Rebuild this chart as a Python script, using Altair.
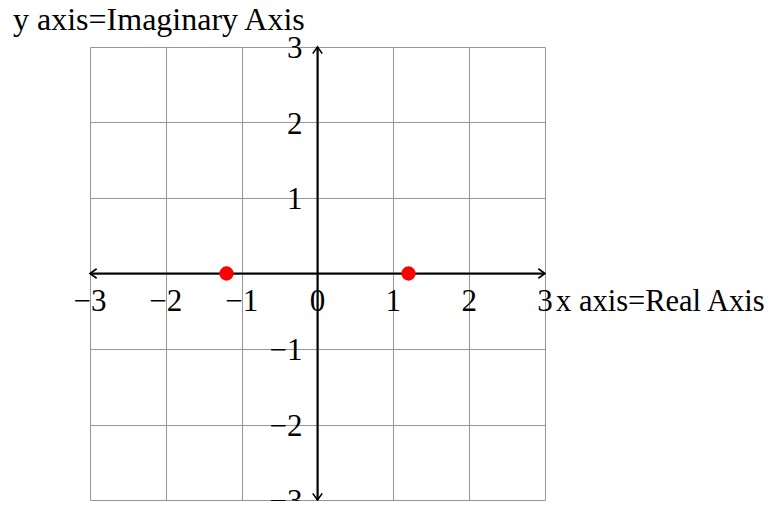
import altair as alt
import pandas as pd

# ---- data ----
tick_values = [-3, -2, -1, 0, 1, 2, 3]
x_tick_values = [-3, -2, -1, 0, 1, 2, 3]
x_tick_labels = ["−3", "−2", "−1", "0", "1", "2", "3"]
y_tick_values = [-3, -2, -1, 1, 2, 3]
y_tick_labels = ["−3", "−2", "−1", "1", "2", "3"]
point_x = [-1.2, 1.2]
point_y = [0, 0]
x_title = "x axis=Real Axis"
y_title = "y axis=Imaginary Axis"
axis_min = -3
axis_max = 3

FONT = "Liberation Serif"
FS = 31

xs = alt.Scale(domain=[axis_min, axis_max], nice=False, zero=False)
ys = alt.Scale(domain=[axis_min, axis_max], nice=False, zero=False)
ax = alt.Axis(values=tick_values, grid=True, labels=False, ticks=False,
              domain=False, title=None, gridColor="#969696", gridWidth=1)

pts = pd.DataFrame({"x": point_x, "y": point_y})
points = alt.Chart(pts).mark_circle(size=205, color="#ff0000", opacity=1).encode(
    x=alt.X("x:Q", scale=xs, axis=ax),
    y=alt.Y("y:Q", scale=ys, axis=ax),
)

rules_df = pd.DataFrame({
    "x": [axis_min, 0], "x2": [axis_max, 0],
    "y": [0, axis_min], "y2": [0, axis_max],
})
rules = alt.Chart(rules_df).mark_rule(color="black", strokeWidth=2).encode(
    x=alt.X("x:Q", scale=xs, axis=ax), x2="x2:Q",
    y=alt.Y("y:Q", scale=ys, axis=ax), y2="y2:Q",
)

arrows_df = pd.DataFrame({
    "x": [axis_max, axis_min, 0, 0],
    "y": [0, 0, axis_max, axis_min],
    "angle": [0, 180, 270, 90],
})
arrows = alt.Chart(arrows_df).mark_point(
    shape="M -1.4 -1 L 0 0 L -1.4 1", filled=False, color="black",
    strokeWidth=1.6, size=90, opacity=1,
).encode(
    x=alt.X("x:Q", scale=xs, axis=ax),
    y=alt.Y("y:Q", scale=ys, axis=ax),
    angle=alt.Angle("angle:Q", scale=None),
)

xl_df = pd.DataFrame({"x": x_tick_values, "y": [0] * len(x_tick_values), "t": x_tick_labels})
xlabels = alt.Chart(xl_df).mark_text(
    font=FONT, fontSize=FS, align="center", baseline="alphabetic", dy=37, color="black"
).encode(
    x=alt.X("x:Q", scale=xs, axis=ax),
    y=alt.Y("y:Q", scale=ys, axis=ax),
    text="t:N",
)

yl_df = pd.DataFrame({"x": [0] * len(y_tick_values), "y": y_tick_values, "t": y_tick_labels})
ylabels = alt.Chart(yl_df).mark_text(
    font=FONT, fontSize=FS, align="right", baseline="alphabetic", dx=-15, dy=11, color="black"
).encode(
    x=alt.X("x:Q", scale=xs, axis=ax),
    y=alt.Y("y:Q", scale=ys, axis=ax),
    text="t:N",
)

xt_df = pd.DataFrame({"x": [axis_max], "y": [0], "t": [x_title]})
xtitle = alt.Chart(xt_df).mark_text(
    font=FONT, fontSize=30.5, align="left", baseline="alphabetic", dx=11, dy=37, color="black"
).encode(
    x=alt.X("x:Q", scale=xs, axis=ax),
    y=alt.Y("y:Q", scale=ys, axis=ax),
    text="t:N",
)

yt_df = pd.DataFrame({"t": [y_title]})
ytitle = alt.Chart(yt_df).mark_text(
    font=FONT, fontSize=32, align="left", baseline="alphabetic", color="black"
).encode(
    x=alt.value(-77),
    y=alt.value(-17),
    text="t:N",
)

chart = alt.layer(rules, arrows, xlabels, ylabels, xtitle, ytitle, points).properties(
    width=455, height=453,
    padding={"left": 82, "top": 39, "right": 223, "bottom": 1},
    autosize=alt.AutoSizeParams(type="none"),
    background="white",
).configure_view(strokeWidth=0)

chart.save("out.html", embed_options={"renderer": "svg", "actions": False})
